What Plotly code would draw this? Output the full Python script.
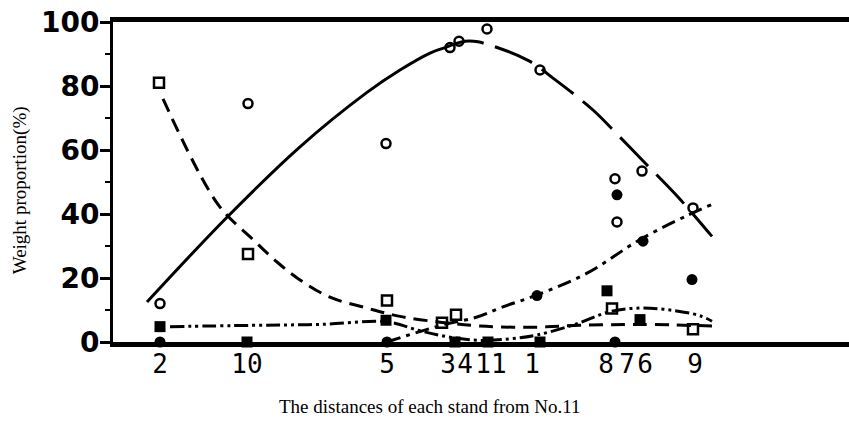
import plotly.graph_objects as go

# Stand positions along the distance axis (arbitrary distance units, No.11 = 0)
stand_labels = ["2", "10", "5", "3", "4", "11", "1", "8", "7", "6", "9"]
stand_pos = [-33.1, -24.4, -10.4, -4.3, -2.6, 0.0, 4.1, 11.5, 13.6, 15.4, 20.4]

# Observed points (distance, weight proportion %)
open_circle_x = [-33.1, -24.3, -10.5, -4.1, -3.2, -0.4, 4.9, 12.4, 12.6, 15.1, 20.2]
open_circle_y = [12, 74.5, 62, 92, 94, 97.8, 85, 51, 37.5, 53.4, 41.9]

open_square_x = [-33.2, -24.3, -10.4, -4.9, -3.5, 12.1, 20.2]
open_square_y = [81, 27.5, 13, 6, 8.5, 10.5, 4]

filled_circle_x = [-33.1, -10.4, 4.6, 12.6, 15.2, 20.1, 12.4]
filled_circle_y = [0, 0, 14.5, 46, 31.5, 19.5, 0]

filled_square_x = [-33.1, -24.4, -10.5, -3.6, -0.3, 4.9, 11.6, 14.9]
filled_square_y = [4.8, 0, 6.8, 0, 0, 0, 16, 7]

# Fitted trend curves
curveA_solid_x = [-34.4, -26.4, -19.1, -12.4, -9.1, -6.1, -4.6]
curveA_solid_y = [12.5, 39, 61, 78, 85, 90.3, 92]
curveA_dash_x = [-4.6, -2.6, -1.3, 3.7, 6.4, 10.2, 12.9, 15.6, 18.7, 22.1]
curveA_dash_y = [92, 94, 93.8, 88, 82, 72.5, 64, 55.3, 45.3, 33]

curveB_x = [-32.8, -27.3, -23.8, -21.4, -19.1, -16.1, -12.4, -9.1, -5.1, -1.1, 3.9, 8.9, 14.9, 22.1]
curveB_y = [76, 43, 32, 25, 19.4, 14, 10.6, 8, 6.2, 5, 4.6, 5.2, 5.5, 5]

curveC_x = [-10.4, -7.6, -4.6, -1.4, 1.2, 4.6, 9.6, 14.9, 19.6, 22.1]
curveC_y = [0, 2.8, 5.5, 7.8, 11, 14.7, 21.5, 32, 39.5, 43]

curveD_x = [-32.1, -24.1, -17.1, -10.4, -7.1, -4.1, -1.1, 1.9, 4.6, 8.4, 11.9, 14.9, 17.9, 20.9, 22.1]
curveD_y = [4.8, 5.2, 5.5, 6.3, 3.5, 1.5, 0.5, 1, 2.2, 5.5, 9.5, 10.6, 10, 8.2, 6.5]

y_ticks = [0, 20, 40, 60, 80, 100]

fig = go.Figure()

def line(x, y, dash, width=3):
    fig.add_trace(go.Scatter(x=x, y=y, mode="lines",
                             line=dict(color="black", width=width, dash=dash,
                                       shape="spline", smoothing=1.0),
                             cliponaxis=False, showlegend=False, hoverinfo="skip"))

line(curveA_solid_x, curveA_solid_y, "solid", 3)
line(curveA_dash_x, curveA_dash_y, "40px,12px", 3)
line(curveB_x, curveB_y, "14px,8px", 3)
line(curveC_x, curveC_y, "14px,6px,4px,6px", 3)
line(curveD_x, curveD_y, "14px,4px,3px,4px,3px,4px", 3)

def pts(x, y, symbol, size, lw=0):
    fig.add_trace(go.Scatter(x=x, y=y, mode="markers",
                             marker=dict(symbol=symbol, size=size, color="black",
                                         line=dict(color="black", width=lw)),
                             cliponaxis=False, showlegend=False))

pts(open_circle_x, open_circle_y, "circle-open", 9, 2.5)
pts(open_square_x, open_square_y, "square-open", 10, 2.5)
pts(filled_circle_x, filled_circle_y, "circle", 11)
pts(filled_square_x, filled_square_y, "square", 11)

fig.update_layout(
    width=849, height=429,
    margin=dict(l=113, r=0, t=22, b=87),
    paper_bgcolor="white", plot_bgcolor="white",
    showlegend=False,
    xaxis=dict(range=[-37.8, 35.8], showgrid=False, zeroline=False, automargin=False,
               showline=True, linecolor="black", linewidth=5, mirror=True,
               ticks="", tickmode="array", tickvals=stand_pos, ticktext=stand_labels,
               tickangle=0, ticklabeloverflow="allow",
               tickfont=dict(family="DejaVu Sans Mono", size=26, color="black"),
               ticklabelstandoff=-5),
    yaxis=dict(range=[0, 100], showgrid=False, zeroline=False, automargin=False,
               showline=True, linecolor="black", linewidth=3,
               ticks="outside", ticklen=10, tickwidth=3, tickcolor="black",
               tickmode="array", tickvals=y_ticks, ticklabeloverflow="allow",
               minor=dict(ticks="outside", ticklen=5, tickwidth=2, dtick=10, tickcolor="black"),
               tickfont=dict(family="DejaVu Sans", size=28, color="black", weight="bold"),
               ticklabelstandoff=-5),
    annotations=[
        dict(text="The distances of each stand from No.11", xref="paper", yref="paper",
             x=0.431, y=-0.203, xanchor="center", yanchor="middle", showarrow=False,
             font=dict(family="Liberation Serif", size=19, color="black")),
        dict(text="Weight proportion(%)", xref="paper", yref="paper",
             x=-0.126, y=0.475, xanchor="center", yanchor="middle", showarrow=False,
             textangle=-90,
             font=dict(family="Liberation Serif", size=19, color="black")),
    ],
)

fig.write_html("out.html",
               config={"displayModeBar": False},
               post_script="document.body.style.margin='0';document.body.style.overflow='hidden';")
